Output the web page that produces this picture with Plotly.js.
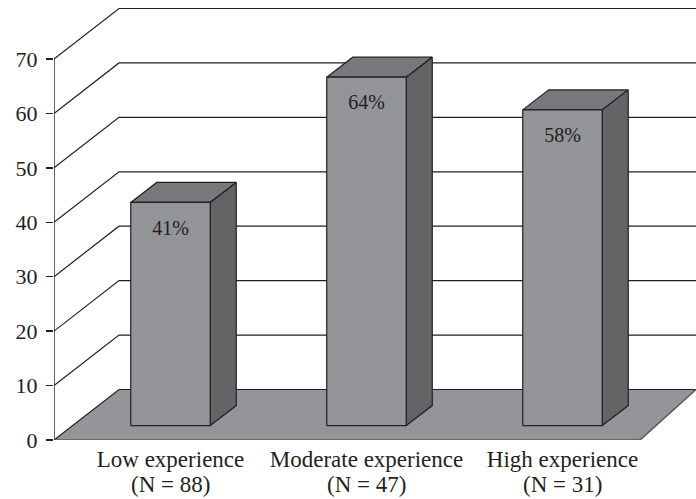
<!DOCTYPE html>
<html><head><meta charset="utf-8">
<script src="https://cdn.plot.ly/plotly-3.0.1.min.js"></script>
<style>html,body{margin:0;padding:0;background:#fff}</style></head>
<body><div id="chart" style="width:696px;height:499px"></div>
<script>
const categories = ["Low experience", "Moderate experience", "High experience"];
const groupSizes = ["(N = 88)", "(N = 47)", "(N = 31)"];
const values = [41, 64, 58];
const barLabels = ["41%", "64%", "58%"];
const gridValues = [10, 20, 30, 40, 50, 60, 70];

const INK = "#231f20", FRONT = "#939598", SIDE = "#636466", TOP = "#77787b";
const FONT = "'Liberation Serif', serif", FS = 22, XFS = 23;
const pxX = 196, pxY = 5.443;            // plot scale used for the oblique offsets
const xMin = (54 - 170.5) / pxX, xMax = (696 - 170.5) / pxX, yMax = 440 / pxY;
const wallDx = 65 / pxX, wallDy = 50.5 / pxY;
const barW = 79.5 / pxX, barDx = 26 / pxX, barDy = 20 / pxY, barBase = 2.65;
const floorEnd = (640 - 170.5) / pxX;

const traces = [];
const lineTrace = (x, y, w) => ({type: "scatter", mode: "lines", x, y, cliponaxis: false, hoverinfo: "skip",
  line: {color: INK, width: w || 1.2, simplify: false}, showlegend: false});
const poly = (x, y, fill, lw) => ({type: "scatter", mode: "lines", x, y, fill: "toself", fillcolor: fill, cliponaxis: false,
  hoverinfo: "skip", line: {color: INK, width: lw === undefined ? 1.2 : lw}, showlegend: false});

gridValues.forEach(v => traces.push(lineTrace([xMin, xMin + wallDx, xMax], [v, v + wallDy, v + wallDy])));
traces.push(poly([xMin, xMin + wallDx, xMax, floorEnd, xMin], [0, wallDy, wallDy, 0, 0], FRONT, 0));
traces.push(lineTrace([xMin, xMin + wallDx, xMax], [0, wallDy, wallDy], 1.2));
traces.push(lineTrace([xMax, floorEnd, xMin], [wallDy, 0, 0], 1.6));
traces[traces.length - 1].line.color = "#58595b";
traces.push(lineTrace([xMin, xMin], [0, 70], 1.4));

values.forEach((v, i) => {
  const l = i - barW / 2, r = i + barW / 2, b = barBase, t = barBase + v;
  traces.push(poly([l, r, r + barDx, l + barDx, l], [t, t, t + barDy, t + barDy, t], TOP));
  traces.push(poly([r, r + barDx, r + barDx, r, r], [b, b + barDy, t + barDy, t, b], SIDE));
  traces.push(poly([l, r, r, l, l], [b, b, t, t, b], FRONT));
});
traces.push({type: "scatter", mode: "text", x: values.map((_, i) => i), y: values.map(v => v + barBase - 5),
  text: barLabels, textposition: "middle center", textfont: {family: FONT, size: 20, color: INK},
  hoverinfo: "skip", showlegend: false, cliponaxis: false});

Plotly.newPlot("chart", traces, {
  width: 696, height: 499, autosize: false, showlegend: false,
  paper_bgcolor: "#fff", plot_bgcolor: "#fff",
  margin: {l: 54, r: 0, t: 0, b: 59, pad: 0},
  font: {family: FONT, size: FS, color: INK},
  xaxis: {range: [xMin, xMax], tickmode: "array", tickvals: categories.map((_, i) => i), ticktext: categories,
    showgrid: false, zeroline: false, showline: false, ticks: "", tickangle: 0, ticklabelstandoff: 3,
    tickfont: {family: FONT, size: XFS, color: INK}},
  yaxis: {range: [0, yMax], tickmode: "array", tickvals: [0].concat(gridValues), showgrid: false, zeroline: false, showline: false,
    ticks: "outside", ticklen: 7, tickwidth: 1.4, tickcolor: INK, ticklabelstandoff: 4,
    tickfont: {family: FONT, size: FS, color: INK}},
  annotations: groupSizes.map((t, i) => ({text: t, x: i, xref: "x", y: 0, yref: "y", yshift: -44, showarrow: false,
    xanchor: "center", yanchor: "middle", font: {family: FONT, size: XFS, color: INK}}))
}, {displayModeBar: false, staticPlot: true});
</script></body></html>
